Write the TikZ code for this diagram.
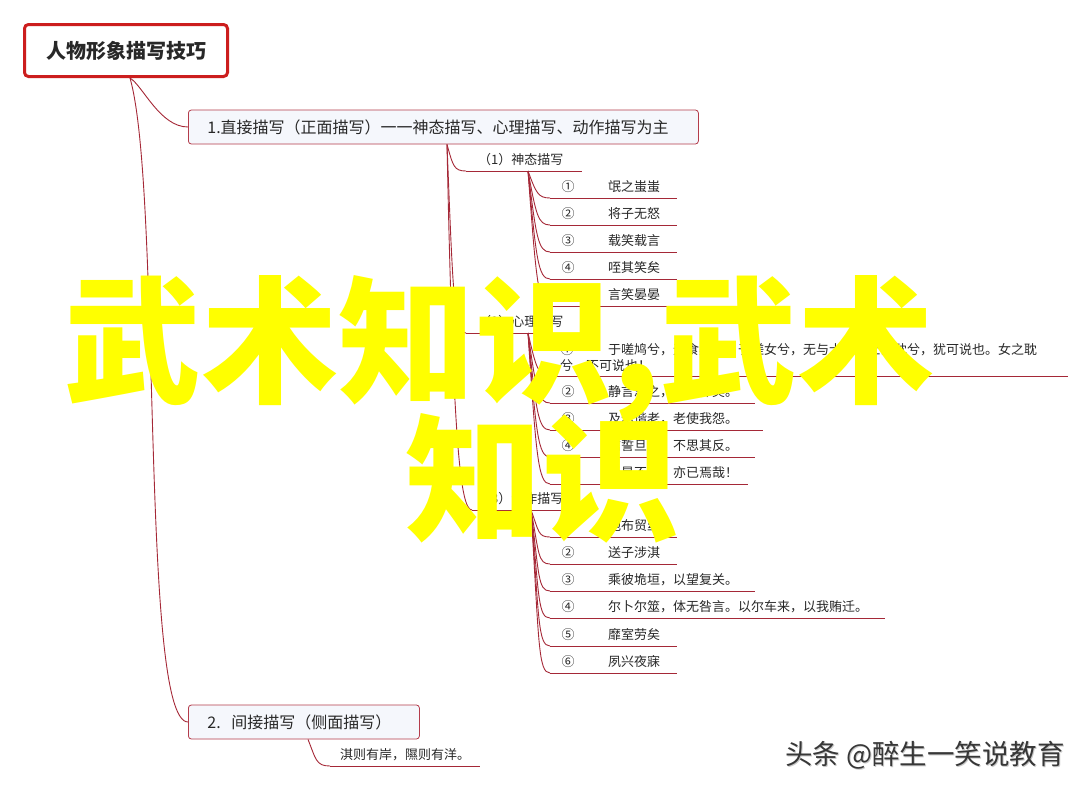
\documentclass[tikz,border=0pt]{standalone}
\usepackage{fontspec}
\setmainfont{Noto Sans CJK SC}
\usetikzlibrary{calc}
\definecolor{con}{RGB}{165,40,55}
\definecolor{rootred}{RGB}{204,30,30}
\definecolor{boxfill}{RGB}{245,247,252}
\definecolor{boxline}{RGB}{180,60,75}
\definecolor{txt}{RGB}{40,40,40}
\definecolor{ylw}{RGB}{255,255,0}
\definecolor{wmdark}{RGB}{55,55,55}
\definecolor{wmlight}{RGB}{200,200,200}
\tikzset{
  con/.style={draw=con, line width=0.9pt},
  uline/.style={draw=con, line width=0.9pt},
  leaf/.style={anchor=west, inner sep=0pt, text=txt, font=\fontsize{13}{15}\selectfont},
  num/.style={anchor=center, inner sep=0pt, text=txt, font=\fontsize{13}{15}\selectfont},
  sub/.style={anchor=west, inner sep=0pt, text=txt, font=\fontsize{13}{15}\selectfont},
  mainbox/.style={draw=boxline, fill=boxfill, rounded corners=3pt, line width=0.8pt, text=txt,
    font=\fontsize{16}{18}\selectfont, anchor=west, inner xsep=19pt, inner ysep=0pt,
    minimum height=34pt, align=left},
  big/.style={anchor=base west, inner sep=0pt, text=ylw, font=\fontsize{137}{147}\selectfont\bfseries},
  wmstyle/.style={anchor=base west, inner sep=0pt, font=\fontsize{27.5}{29}\selectfont},
}
\begin{document}
\begin{tikzpicture}[x=1pt,y=-1pt]
\fill[white] (0,0) rectangle (1088,787);
\useasboundingbox (0,0) rectangle (1088,787);

% root
\node[draw=rootred, line width=3pt, rounded corners=4pt, fill=white, minimum width=203pt,
  minimum height=52pt, font=\fontsize{20}{22}\selectfont\bfseries, text=txt] (root) at (126,50.5) {人物形象描写技巧};
\coordinate (rO) at ($(root.south)+(4,0)$);

% level 1
\node[mainbox, text width=472pt] (d) at (188,127) {1.直接描写（正面描写）一一神态描写、心理描写、动作描写为主};
\node[mainbox, text width=193pt] (ind) at (188,722) {2.\ \ 间接描写（侧面描写）};

\draw[con] (rO) .. controls (143,86) and (160,127) .. (d.west);
\draw[con] (rO) .. controls (162,190) and (140,722) .. (ind.west);

% level 2 under direct description
\coordinate (dO) at ($(d.south west)+(259,0)$);
\foreach \nm/\y/\lab/\sx in {sa/171/（1）神态描写/466, sb/333/（2）心理描写/466, sc/510/（3）动作描写/472} {
  \coordinate (\nm-s) at (\sx,\y);
  \coordinate (\nm-e) at (582,\y);
  \draw[uline] (\nm-s) -- (\nm-e);
  \draw[con] (dO) .. controls +(6,{0.8*(\y-144)}) and +(-12,0) .. (\nm-s);
  \node[sub] (\nm-t) at (478,\y-11) {\lab};
}
\coordinate (pa) at (528,171);
\coordinate (pb) at (528,333);
\coordinate (pc) at (531,510);

% leaves of (1)
\foreach \i/\y/\n/\t/\e in {1/198/①/氓之蚩蚩/677, 2/225/②/将子无怒/677, 3/252/③/载笑载言/677, 4/279/④/咥其笑矣/677, 5/306/⑤/言笑晏晏/677} {
  \coordinate (la\i-s) at (550,\y);
  \coordinate (la\i-e) at (\e,\y);
  \draw[uline] (la\i-s) -- (la\i-e);
  \draw[con] (pa) .. controls +(8,{0.8*(\y-171)}) and +(-12,0) .. (la\i-s);
  \node[num] (la\i-n) at (568,\y-11) {\n};
  \node[leaf] (la\i-t) at (608,\y-11) {\t};
}

% leaves of (2)
\coordinate (lb1-s) at (550,376);
\coordinate (lb1-e) at (1068,376);
\draw[uline] (lb1-s) -- (lb1-e);
\draw[con] (pb) .. controls +(8,{0.8*(376-333)}) and +(-12,0) .. (lb1-s);
\node[num] (lb1-n) at (567,350) {①};
\node[leaf] (lb1-t) at (608,350) {于嗟鸠兮，无食桑葚；于嗟女兮，无与士耽。士之耽兮，犹可说也。女之耽};
\node[leaf] (lb1-u) at (560,366) {兮，不可说也！};
\foreach \i/\y/\n/\t/\e in {2/403/②/静言思之，躬自悼矣。/755, 3/430/③/及尔偕老，老使我怨。/763, 4/457/④/信誓旦旦，不思其反。/755, 5/484/⑤/反是不思，亦已焉哉！/748} {
  \coordinate (lb\i-s) at (550,\y);
  \coordinate (lb\i-e) at (\e,\y);
  \draw[uline] (lb\i-s) -- (lb\i-e);
  \draw[con] (pb) .. controls +(8,{0.8*(\y-333)}) and +(-12,0) .. (lb\i-s);
  \node[num] (lb\i-n) at (568,\y-11) {\n};
  \node[leaf] (lb\i-t) at (608,\y-11) {\t};
}

% leaves of (3)
\foreach \i/\y/\n/\t/\e in {1/537/①/抱布贸丝/677, 2/564/②/送子涉淇/677, 3/591/③/乘彼垝垣，以望复关。/755, 4/618/④/尔卜尔筮，体无咎言。以尔车来，以我贿迁。/885, 5/646/⑤/靡室劳矣/677, 6/673/⑥/夙兴夜寐/677} {
  \coordinate (lc\i-s) at (550,\y);
  \coordinate (lc\i-e) at (\e,\y);
  \draw[uline] (lc\i-s) -- (lc\i-e);
  \draw[con] (pc) .. controls +(8,{0.8*(\y-510)}) and +(-12,0) .. (lc\i-s);
  \node[num] (lc\i-n) at (568,\y-11) {\n};
  \node[leaf] (lc\i-t) at (608,\y-11) {\t};
}

% child of indirect description
\coordinate (iO) at ($(ind.south west)+(120,0)$);
\coordinate (ic-s) at (330,766);
\coordinate (ic-e) at (480,766);
\draw[uline] (ic-s) -- (ic-e);
\draw[con] (iO) .. controls +(8,20) and +(-14,0) .. (ic-s);
\node[leaf] (ic-t) at (340,755) {淇则有岸，隰则有洋。};

% yellow overlay
\node[big] (ov1) at (64,392) {武术知识,武术};
\node[big] (ov2) at (405,530) {知识};

% watermark
\node[wmstyle, text=wmlight] (wm0) at (786,765) {头条 @醉生一笑说教育};
\node[wmstyle, text=wmdark] (wm) at (785,764) {头条 @醉生一笑说教育};
\end{tikzpicture}
\end{document}
